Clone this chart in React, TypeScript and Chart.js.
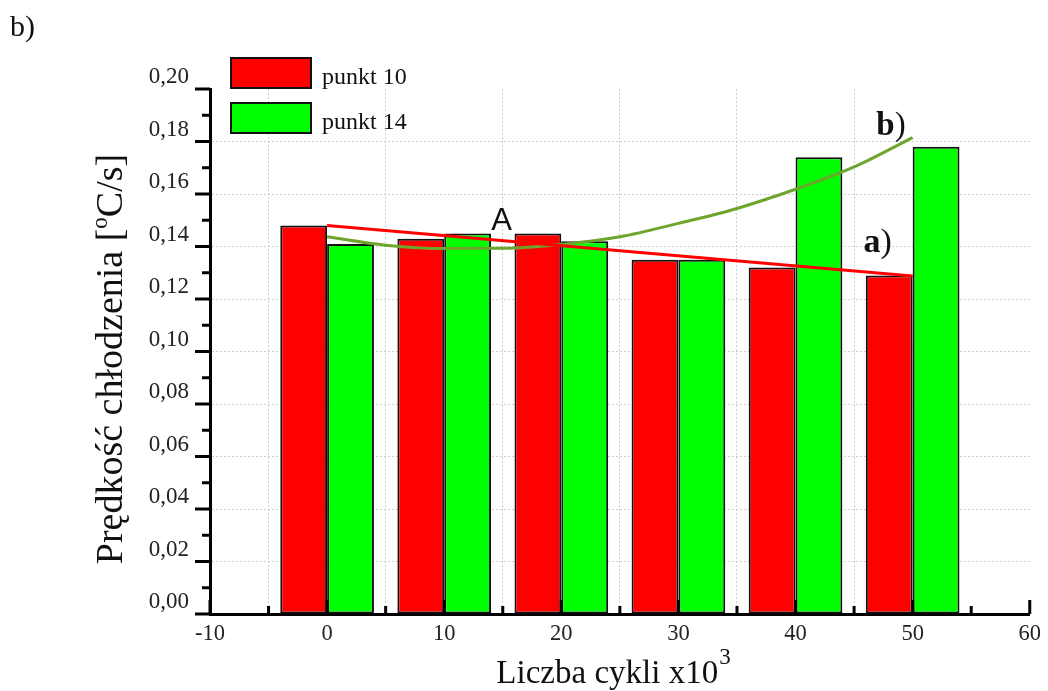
import React, { useEffect, useRef } from "react";
import { Chart, registerables } from "chart.js";

Chart.register(...registerables);

// ---- data ----
const categories = [0, 10, 20, 30, 40, 50];
const punkt10 = [0.148, 0.143, 0.145, 0.135, 0.132, 0.129];
const punkt14 = [0.141, 0.145, 0.142, 0.135, 0.174, 0.178];
const fitAX = [0, 50];
const fitAY = [0.148, 0.1288];
const fitBX = [0, 5, 10, 15, 20, 25, 30, 35, 40, 45, 50];
const fitBY = [0.1437, 0.1405, 0.1392, 0.1393, 0.1408, 0.1437, 0.1488, 0.1545, 0.1618, 0.1703, 0.1815];
const xTickValues = [-10, 0, 10, 20, 30, 40, 50, 60];
const xMinorValues = [-5, 5, 15, 25, 35, 45, 55];
const yTickValues = [0, 0.02, 0.04, 0.06, 0.08, 0.1, 0.12, 0.14, 0.16, 0.18, 0.2];
const yMinorValues = [0.01, 0.03, 0.05, 0.07, 0.09, 0.11, 0.13, 0.15, 0.17, 0.19];
const seriesLabels = ["punkt 10", "punkt 14"];
const yTitle = "Prędkość chłodzenia [";
const yTitleSup = "o";
const yTitleEnd = "C/s]";
const xTitle = "Liczba cykli x10";
const xTitleSup = "3";

const SERIF = "'Liberation Serif', 'Times New Roman', serif";
const RED = "#ff0000";
const GREEN = "#00ff00";
const OLIVE = "#6da52d";

const overlayPlugin = {
  id: "overlay",
  afterDraw(chart: any) {
    const { ctx, scales } = chart;
    const xs = scales.x;
    const ys = scales.y;
    const left = chart.chartArea.left;
    const bottom = chart.chartArea.bottom;
    ctx.save();
    ctx.strokeStyle = "#000";
    ctx.lineWidth = 3;
    // y ticks (outward)
    yTickValues.forEach((v) => {
      const p = ys.getPixelForValue(v);
      ctx.beginPath();
      ctx.moveTo(left - 15, p);
      ctx.lineTo(left, p);
      ctx.stroke();
    });
    yMinorValues.forEach((v) => {
      const p = ys.getPixelForValue(v);
      ctx.beginPath();
      ctx.moveTo(left - 8, p);
      ctx.lineTo(left, p);
      ctx.stroke();
    });
    // x ticks (inward)
    xTickValues.forEach((v) => {
      const p = xs.getPixelForValue(v);
      ctx.beginPath();
      ctx.moveTo(p, bottom);
      ctx.lineTo(p, bottom - 14);
      ctx.stroke();
    });
    xMinorValues.forEach((v) => {
      const p = xs.getPixelForValue(v);
      ctx.beginPath();
      ctx.moveTo(p, bottom);
      ctx.lineTo(p, bottom - 8);
      ctx.stroke();
    });

    // legend
    const colors = [RED, GREEN];
    ctx.lineWidth = 2;
    ctx.font = `24px ${SERIF}`;
    ctx.textBaseline = "alphabetic";
    ctx.textAlign = "left";
    colors.forEach((c, i) => {
      const top = 58 + i * 45;
      ctx.fillStyle = c;
      ctx.fillRect(231, top, 80, 30);
      ctx.strokeStyle = "#111";
      ctx.strokeRect(231, top, 80, 30);
      ctx.fillStyle = "#111";
      ctx.fillText(seriesLabels[i], 322, top + 26);
    });

    // "b)" panel label
    ctx.fillStyle = "#111";
    ctx.font = `30px ${SERIF}`;
    ctx.fillText("b)", 10, 36);

    // annotations
    ctx.font = `31px 'Liberation Sans', Arial, sans-serif`;
    ctx.textAlign = "center";
    ctx.fillText("A", xs.getPixelForValue(14.9), ys.getPixelForValue(0.1463));
    ctx.textAlign = "left";
    ctx.font = `bold 33px ${SERIF}`;
    const bx = xs.getPixelForValue(46.9);
    const by = ys.getPixelForValue(0.1825);
    ctx.fillText("b", bx, by);
    let w = ctx.measureText("b").width;
    ctx.font = `33px ${SERIF}`;
    ctx.fillText(")", bx + w, by);
    const ax = xs.getPixelForValue(45.8);
    const ay = ys.getPixelForValue(0.1379);
    ctx.font = `bold 34px ${SERIF}`;
    ctx.fillText("a", ax, ay);
    w = ctx.measureText("a").width;
    ctx.font = `34px ${SERIF}`;
    ctx.fillText(")", ax + w, ay);

    // x title
    ctx.font = `33px ${SERIF}`;
    const xw = ctx.measureText(xTitle).width;
    ctx.font = `23px ${SERIF}`;
    const sw = ctx.measureText(xTitleSup).width;
    const cx = 613;
    const sx = cx - (xw + sw) / 2;
    ctx.font = `33px ${SERIF}`;
    ctx.fillText(xTitle, sx, 683);
    ctx.font = `23px ${SERIF}`;
    ctx.fillText(xTitleSup, sx + xw + 1, 664);

    // y title (rotated)
    ctx.save();
    ctx.translate(122, 359);
    ctx.rotate(-Math.PI / 2);
    ctx.font = `38px ${SERIF}`;
    const w1 = ctx.measureText(yTitle).width;
    const w3 = ctx.measureText(yTitleEnd).width;
    ctx.font = `23px ${SERIF}`;
    const w2 = ctx.measureText(yTitleSup).width;
    const total = w1 + w2 + w3;
    let px = -total / 2;
    ctx.font = `38px ${SERIF}`;
    ctx.fillText(yTitle, px, 0);
    px += w1;
    ctx.font = `23px ${SERIF}`;
    ctx.fillText(yTitleSup, px, -15);
    px += w2;
    ctx.font = `38px ${SERIF}`;
    ctx.fillText(yTitleEnd, px, 0);
    ctx.restore();

    ctx.restore();
  },
};

export default function App() {
  const ref = useRef<HTMLCanvasElement | null>(null);

  useEffect(() => {
    document.body.style.margin = "0";
    const canvas = ref.current;
    if (!canvas) return;
    Chart.defaults.font.family = SERIF;
    const chart = new Chart(canvas, {
      type: "bar",
      data: {
        datasets: [
          {
            type: "line",
            label: "a)",
            data: fitAX.map((x, i) => ({ x, y: fitAY[i] })),
            borderColor: RED,
            borderWidth: 3,
            pointRadius: 0,
            order: 0,
          } as any,
          {
            type: "line",
            label: "b)",
            data: fitBX.map((x, i) => ({ x, y: fitBY[i] })),
            borderColor: OLIVE,
            borderWidth: 3,
            pointRadius: 0,
            cubicInterpolationMode: "monotone",
            order: 0,
          } as any,
          {
            type: "bar",
            label: seriesLabels[0],
            data: categories.map((x, i) => ({ x, y: punkt10[i] })),
            backgroundColor: RED,
            borderColor: "#111",
            borderWidth: 2,
            borderSkipped: false,
            categoryPercentage: 0.8,
            barPercentage: 1.0,
            order: 1,
          } as any,
          {
            type: "bar",
            label: seriesLabels[1],
            data: categories.map((x, i) => ({ x, y: punkt14[i] })),
            backgroundColor: GREEN,
            borderColor: "#111",
            borderWidth: 2,
            borderSkipped: false,
            categoryPercentage: 0.8,
            barPercentage: 1.0,
            order: 1,
          } as any,
        ],
      },
      options: {
        animation: false,
        responsive: true,
        maintainAspectRatio: false,
        layout: { padding: { top: 89, right: 16, left: 0, bottom: 0 } },
        plugins: { legend: { display: false }, tooltip: { enabled: false } },
        scales: {
          x: {
            type: "linear",
            min: -10,
            max: 60,
            offset: false,
            afterBuildTicks: (s: any) => {
              s.ticks = xTickValues.map((value) => ({ value }));
            },
            afterFit: (s: any) => {
              s.height = 77;
            },
            ticks: {
              color: "#222",
              font: { size: 22.5, family: SERIF },
              padding: 7,
              maxRotation: 0,
              autoSkip: false,
            },
            grid: {
              drawTicks: false,
              color: (c: any) =>
                c.tick && (c.tick.value <= -10 || c.tick.value >= 60) ? "rgba(0,0,0,0)" : "#cfcfcf",
              lineWidth: 1,
            },
            border: { display: true, color: "#000", width: 3, dash: [2, 2] },
          },
          y: {
            type: "linear",
            min: 0,
            max: 0.2,
            afterBuildTicks: (s: any) => {
              s.ticks = yTickValues.map((value) => ({ value }));
            },
            afterFit: (s: any) => {
              s.width = 210;
            },
            ticks: {
              color: "#222",
              font: { size: 23, family: SERIF },
              padding: 21,
              labelOffset: -12,
              callback: (v: any) => Number(v).toFixed(2).replace(".", ","),
            },
            grid: {
              drawTicks: false,
              color: (c: any) =>
                c.tick && (c.tick.value <= 0.0001 || c.tick.value >= 0.1999) ? "rgba(0,0,0,0)" : "#cfcfcf",
              lineWidth: 1,
            },
            border: { display: true, color: "#000", width: 3, dash: [2, 2] },
          },
        },
      },
      plugins: [overlayPlugin],
    });
    return () => chart.destroy();
  }, []);

  return (
    <div style={{ width: 1048, height: 691, position: "relative", background: "#fff" }}>
      <canvas ref={ref} />
    </div>
  );
}
